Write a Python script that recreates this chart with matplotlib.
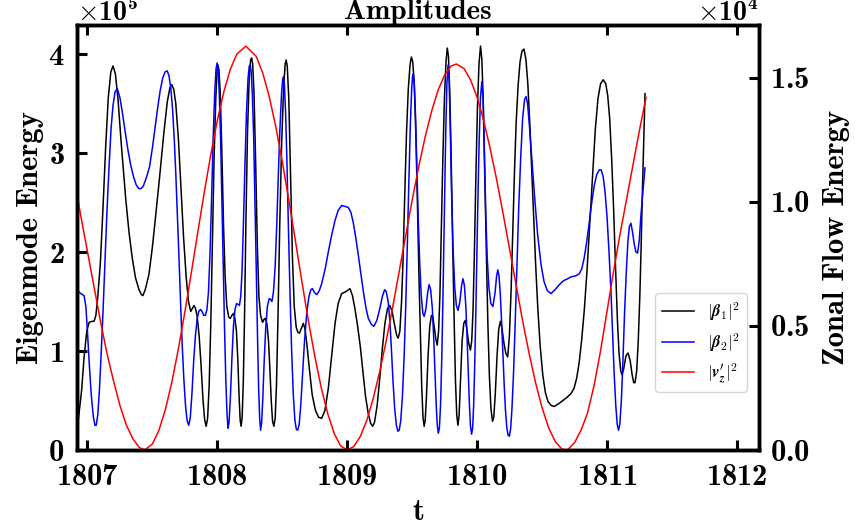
import matplotlib
matplotlib.use('Agg')
import matplotlib.pyplot as plt
import numpy as np

# |beta_1|^2, in units of 1e5
t_beta1 = [1806.931, 1806.955, 1806.975, 1806.995, 1807.013, 1807.035, 1807.051, 1807.065, 1807.080, 1807.100,
           1807.120, 1807.140, 1807.160, 1807.180, 1807.197, 1807.215, 1807.235, 1807.260, 1807.294, 1807.320,
           1807.345, 1807.370, 1807.397, 1807.415, 1807.427, 1807.445, 1807.473, 1807.500, 1807.524, 1807.555,
           1807.588, 1807.615, 1807.635, 1807.650, 1807.665, 1807.680, 1807.700, 1807.720, 1807.740, 1807.760,
           1807.778, 1807.795, 1807.808, 1807.820, 1807.832, 1807.845, 1807.860, 1807.875, 1807.890, 1807.903,
           1807.914, 1807.925, 1807.937, 1807.950, 1807.962, 1807.975, 1807.988, 1807.998, 1808.005, 1808.012,
           1808.022, 1808.035, 1808.048, 1808.060, 1808.073, 1808.088, 1808.100, 1808.112, 1808.124, 1808.135,
           1808.147, 1808.158, 1808.168, 1808.176, 1808.183, 1808.191, 1808.200, 1808.210, 1808.220, 1808.232,
           1808.245, 1808.256, 1808.264, 1808.272, 1808.282, 1808.295, 1808.308, 1808.320, 1808.333, 1808.348,
           1808.360, 1808.370, 1808.382, 1808.394, 1808.405, 1808.415, 1808.425, 1808.435, 1808.445, 1808.455,
           1808.467, 1808.480, 1808.495, 1808.510, 1808.522, 1808.530, 1808.538, 1808.550, 1808.563, 1808.578,
           1808.592, 1808.607, 1808.620, 1808.632, 1808.647, 1808.662, 1808.675, 1808.690, 1808.710, 1808.730,
           1808.755, 1808.780, 1808.803, 1808.828, 1808.854, 1808.880, 1808.906, 1808.930, 1808.957, 1808.990,
           1809.021, 1809.040, 1809.059, 1809.080, 1809.100, 1809.120, 1809.140, 1809.160, 1809.180, 1809.195,
           1809.210, 1809.230, 1809.250, 1809.270, 1809.290, 1809.310, 1809.328, 1809.345, 1809.362, 1809.380,
           1809.392, 1809.405, 1809.418, 1809.430, 1809.443, 1809.456, 1809.470, 1809.484, 1809.494, 1809.504,
           1809.515, 1809.528, 1809.540, 1809.552, 1809.563, 1809.573, 1809.583, 1809.592, 1809.600, 1809.610,
           1809.622, 1809.635, 1809.648, 1809.658, 1809.670, 1809.682, 1809.693, 1809.703, 1809.713, 1809.724,
           1809.736, 1809.748, 1809.760, 1809.770, 1809.779, 1809.789, 1809.800, 1809.812, 1809.823, 1809.833,
           1809.843, 1809.852, 1809.861, 1809.872, 1809.884, 1809.897, 1809.909, 1809.921, 1809.935, 1809.948,
           1809.958, 1809.968, 1809.978, 1809.990, 1810.002, 1810.014, 1810.026, 1810.036, 1810.046, 1810.058,
           1810.070, 1810.082, 1810.094, 1810.106, 1810.118, 1810.128, 1810.140, 1810.153, 1810.166, 1810.179,
           1810.192, 1810.205, 1810.220, 1810.235, 1810.248, 1810.261, 1810.274, 1810.287, 1810.300, 1810.315,
           1810.330, 1810.345, 1810.360, 1810.375, 1810.390, 1810.405, 1810.420, 1810.435, 1810.450, 1810.466,
           1810.485, 1810.505, 1810.525, 1810.545, 1810.570, 1810.594, 1810.630, 1810.660, 1810.690, 1810.722,
           1810.745, 1810.765, 1810.785, 1810.805, 1810.825, 1810.845, 1810.865, 1810.888, 1810.910, 1810.930,
           1810.950, 1810.970, 1810.990, 1811.005, 1811.020, 1811.035, 1811.050, 1811.065, 1811.080, 1811.092,
           1811.105, 1811.115, 1811.128, 1811.145, 1811.162, 1811.178, 1811.193, 1811.205, 1811.215, 1811.228,
           1811.240, 1811.252, 1811.262, 1811.272, 1811.282, 1811.292]
beta1 = [0.32, 0.60, 0.95, 1.20, 1.29, 1.30, 1.30, 1.36, 1.55, 1.90,
         2.45, 3.05, 3.55, 3.82, 3.88, 3.80, 3.55, 3.10, 2.55, 2.20,
         1.94, 1.74, 1.62, 1.57, 1.56, 1.62, 1.77, 2.05, 2.35, 2.75,
         3.20, 3.52, 3.66, 3.69, 3.64, 3.50, 3.15, 2.65, 2.15, 1.75,
         1.50, 1.40, 1.43, 1.46, 1.43, 1.35, 1.15, 0.85, 0.50, 0.30,
         0.24, 0.32, 0.65, 1.30, 2.10, 2.95, 3.55, 3.83, 3.89, 3.84,
         3.62, 3.00, 2.25, 1.75, 1.45, 1.34, 1.33, 1.36, 1.38, 1.33,
         1.20, 0.90, 0.52, 0.30, 0.24, 0.33, 0.70, 1.40, 2.30, 3.20,
         3.75, 3.94, 3.96, 3.90, 3.62, 2.90, 2.05, 1.55, 1.36, 1.29,
         1.32, 1.33, 1.27, 1.10, 0.80, 0.50, 0.29, 0.24, 0.32, 0.65,
         1.35, 2.25, 3.10, 3.65, 3.90, 3.94, 3.88, 3.55, 2.80, 1.95,
         1.45, 1.24, 1.19, 1.18, 1.23, 1.28, 1.22, 1.06, 0.80, 0.56,
         0.40, 0.33, 0.32, 0.40, 0.62, 0.95, 1.28, 1.48, 1.58, 1.60,
         1.63, 1.56, 1.43, 1.25, 1.05, 0.80, 0.55, 0.38, 0.27, 0.24,
         0.28, 0.45, 0.72, 1.02, 1.28, 1.43, 1.46, 1.40, 1.28, 1.16,
         1.13, 1.20, 1.50, 1.94, 2.60, 3.20, 3.65, 3.90, 3.97, 3.92,
         3.72, 3.20, 2.50, 1.75, 1.15, 0.65, 0.33, 0.24, 0.30, 0.55,
         0.95, 1.25, 1.36, 1.35, 1.24, 1.12, 1.06, 1.20, 1.55, 2.20,
         2.95, 3.55, 3.92, 4.06, 3.98, 3.62, 2.95, 2.05, 1.30, 0.70,
         0.35, 0.25, 0.35, 0.70, 1.10, 1.28, 1.31, 1.22, 1.08, 1.01,
         1.10, 1.40, 1.95, 2.75, 3.45, 3.90, 4.08, 3.95, 3.55, 2.80,
         2.00, 1.30, 0.75, 0.42, 0.29, 0.33, 0.58, 0.95, 1.22, 1.30,
         1.22, 1.09, 0.98, 0.94, 1.15, 1.60, 2.20, 2.80, 3.30, 3.68,
         3.92, 4.03, 4.05, 3.95, 3.70, 3.30, 2.82, 2.35, 1.88, 1.45,
         1.05, 0.76, 0.58, 0.49, 0.45, 0.44, 0.47, 0.50, 0.53, 0.57,
         0.62, 0.72, 0.88, 1.12, 1.42, 1.80, 2.25, 2.78, 3.25, 3.55,
         3.70, 3.74, 3.70, 3.58, 3.35, 2.95, 2.45, 1.85, 1.30, 0.98,
         0.80, 0.76, 0.82, 0.95, 0.98, 0.90, 0.76, 0.68, 0.68, 0.80,
         1.10, 1.55, 2.05, 2.61, 3.10, 3.60]

# |beta_2|^2, in units of 1e5
t_beta2 = [1806.931, 1806.950, 1806.974, 1806.988, 1807.000, 1807.015, 1807.030, 1807.045, 1807.058, 1807.068,
           1807.080, 1807.092, 1807.105, 1807.120, 1807.135, 1807.150, 1807.166, 1807.182, 1807.197, 1807.213,
           1807.230, 1807.250, 1807.270, 1807.290, 1807.312, 1807.333, 1807.355, 1807.375, 1807.395, 1807.410,
           1807.428, 1807.448, 1807.465, 1807.478, 1807.500, 1807.520, 1807.540, 1807.560, 1807.580, 1807.598,
           1807.614, 1807.628, 1807.642, 1807.655, 1807.668, 1807.680, 1807.693, 1807.706, 1807.718, 1807.730,
           1807.742, 1807.755, 1807.767, 1807.780, 1807.792, 1807.805, 1807.818, 1807.831, 1807.845, 1807.857,
           1807.870, 1807.882, 1807.895, 1807.908, 1807.920, 1807.932, 1807.944, 1807.956, 1807.968, 1807.980,
           1807.990, 1807.998, 1808.006, 1808.015, 1808.025, 1808.035, 1808.045, 1808.055, 1808.065, 1808.074,
           1808.082, 1808.090, 1808.100, 1808.112, 1808.124, 1808.136, 1808.148, 1808.160, 1808.170, 1808.180,
           1808.190, 1808.200, 1808.212, 1808.224, 1808.236, 1808.246, 1808.253, 1808.261, 1808.270, 1808.280,
           1808.290, 1808.300, 1808.310, 1808.318, 1808.326, 1808.333, 1808.341, 1808.350, 1808.360, 1808.372,
           1808.385, 1808.399, 1808.410, 1808.420, 1808.432, 1808.445, 1808.458, 1808.470, 1808.482, 1808.495,
           1808.503, 1808.509, 1808.516, 1808.525, 1808.535, 1808.547, 1808.560, 1808.572, 1808.585, 1808.597,
           1808.608, 1808.619, 1808.630, 1808.642, 1808.655, 1808.670, 1808.688, 1808.705, 1808.720, 1808.732,
           1808.748, 1808.765, 1808.785, 1808.803, 1808.830, 1808.854, 1808.880, 1808.906, 1808.930, 1808.957,
           1808.985, 1809.008, 1809.028, 1809.046, 1809.065, 1809.085, 1809.105, 1809.124, 1809.145, 1809.162,
           1809.185, 1809.205, 1809.228, 1809.251, 1809.270, 1809.288, 1809.300, 1809.315, 1809.328, 1809.340,
           1809.352, 1809.365, 1809.378, 1809.390, 1809.400, 1809.412, 1809.425, 1809.438, 1809.450, 1809.462,
           1809.474, 1809.486, 1809.496, 1809.503, 1809.509, 1809.516, 1809.525, 1809.535, 1809.546, 1809.558,
           1809.570, 1809.582, 1809.592, 1809.605, 1809.618, 1809.630, 1809.642, 1809.655, 1809.665, 1809.675,
           1809.685, 1809.693, 1809.701, 1809.709, 1809.718, 1809.728, 1809.738, 1809.748, 1809.758, 1809.767,
           1809.776, 1809.784, 1809.793, 1809.803, 1809.814, 1809.827, 1809.840, 1809.853, 1809.867, 1809.880,
           1809.891, 1809.902, 1809.913, 1809.922, 1809.931, 1809.940, 1809.948, 1809.957, 1809.965, 1809.973,
           1809.982, 1809.992, 1810.003, 1810.014, 1810.025, 1810.036, 1810.046, 1810.056, 1810.066, 1810.077,
           1810.090, 1810.105, 1810.121, 1810.137, 1810.150, 1810.159, 1810.168, 1810.178, 1810.188, 1810.198,
           1810.208, 1810.218, 1810.228, 1810.238, 1810.248, 1810.258, 1810.268, 1810.280, 1810.292, 1810.305,
           1810.320, 1810.335, 1810.350, 1810.365, 1810.376, 1810.388, 1810.402, 1810.420, 1810.441, 1810.465,
           1810.492, 1810.515, 1810.540, 1810.568, 1810.600, 1810.632, 1810.665, 1810.696, 1810.725, 1810.760,
           1810.786, 1810.805, 1810.824, 1810.843, 1810.863, 1810.882, 1810.901, 1810.920, 1810.940, 1810.955,
           1810.970, 1810.985, 1811.000, 1811.015, 1811.030, 1811.043, 1811.055, 1811.067, 1811.078, 1811.088,
           1811.098, 1811.110, 1811.122, 1811.135, 1811.148, 1811.160, 1811.172, 1811.184, 1811.196, 1811.209,
           1811.222, 1811.235, 1811.248, 1811.260, 1811.275, 1811.292]
beta2 = [1.60, 1.58, 1.56, 1.45, 1.20, 0.85, 0.55, 0.34, 0.25, 0.25,
         0.36, 0.60, 0.95, 1.40, 1.90, 2.40, 2.85, 3.25, 3.48, 3.62,
         3.65, 3.56, 3.40, 3.22, 3.03, 2.88, 2.76, 2.68, 2.64, 2.64,
         2.66, 2.73, 2.80, 2.86, 3.05, 3.25, 3.45, 3.63, 3.76, 3.82,
         3.83, 3.78, 3.65, 3.45, 3.15, 2.80, 2.35, 1.90, 1.45, 1.05,
         0.72, 0.45, 0.30, 0.25, 0.33, 0.58, 0.90, 1.15, 1.33, 1.40,
         1.42, 1.40, 1.36, 1.36, 1.42, 1.60, 2.00, 2.55, 3.15, 3.62,
         3.85, 3.91, 3.85, 3.60, 3.15, 2.55, 1.90, 1.25, 0.72, 0.38,
         0.22, 0.28, 0.52, 0.92, 1.25, 1.42, 1.48, 1.47, 1.46, 1.55,
         1.80, 2.25, 2.85, 3.40, 3.75, 3.88, 3.89, 3.82, 3.58, 3.15,
         2.50, 1.80, 1.10, 0.62, 0.32, 0.20, 0.28, 0.52, 0.88, 1.22,
         1.45, 1.53, 1.52, 1.50, 1.60, 1.85, 2.30, 2.80, 3.25, 3.62,
         3.74, 3.77, 3.70, 3.42, 2.95, 2.25, 1.55, 1.00, 0.55, 0.30,
         0.21, 0.20, 0.26, 0.45, 0.75, 1.08, 1.38, 1.55, 1.62, 1.63,
         1.59, 1.57, 1.61, 1.68, 1.83, 2.00, 2.17, 2.32, 2.42, 2.47,
         2.46, 2.45, 2.40, 2.30, 2.15, 1.97, 1.78, 1.60, 1.43, 1.33,
         1.27, 1.25, 1.31, 1.43, 1.55, 1.62, 1.60, 1.50, 1.30, 1.02,
         0.70, 0.42, 0.25, 0.19, 0.20, 0.30, 0.55, 0.95, 1.45, 2.05,
         2.70, 3.30, 3.65, 3.78, 3.80, 3.70, 3.40, 2.90, 2.35, 1.88,
         1.55, 1.38, 1.35, 1.42, 1.58, 1.67, 1.62, 1.43, 1.15, 0.80,
         0.45, 0.25, 0.17, 0.22, 0.45, 0.95, 1.65, 2.45, 3.20, 3.70,
         3.89, 3.75, 3.25, 2.60, 2.05, 1.65, 1.46, 1.41, 1.50, 1.66,
         1.73, 1.66, 1.45, 1.15, 0.80, 0.47, 0.25, 0.16, 0.22, 0.45,
         0.90, 1.55, 2.35, 3.05, 3.55, 3.72, 3.55, 3.00, 2.40, 1.95,
         1.65, 1.48, 1.45, 1.58, 1.76, 1.82, 1.76, 1.58, 1.30, 0.98,
         0.66, 0.40, 0.23, 0.15, 0.14, 0.22, 0.42, 0.78, 1.25, 1.80,
         2.45, 2.95, 3.35, 3.54, 3.57, 3.50, 3.28, 2.95, 2.58, 2.18,
         1.87, 1.70, 1.61, 1.58, 1.62, 1.67, 1.71, 1.73, 1.75, 1.76,
         1.78, 1.83, 1.94, 2.10, 2.30, 2.50, 2.67, 2.78, 2.83, 2.83,
         2.76, 2.60, 2.35, 2.00, 1.60, 1.15, 0.76, 0.45, 0.26, 0.20,
         0.26, 0.50, 0.90, 1.40, 1.80, 2.10, 2.26, 2.29, 2.20, 2.08,
         2.00, 1.99, 2.12, 2.36, 2.60, 2.85]

# |v_z'|^2, in units of 1e4
t_vz = [1806.93, 1806.95, 1807.00, 1807.05, 1807.10, 1807.15, 1807.20, 1807.25, 1807.30, 1807.35,
        1807.40, 1807.44, 1807.50, 1807.55, 1807.60, 1807.65, 1807.70, 1807.75, 1807.80, 1807.85,
        1807.90, 1807.95, 1808.00, 1808.05, 1808.10, 1808.15, 1808.22, 1808.30, 1808.35, 1808.40,
        1808.45, 1808.50, 1808.55, 1808.60, 1808.65, 1808.70, 1808.75, 1808.80, 1808.85, 1808.90,
        1808.95, 1809.00, 1809.05, 1809.10, 1809.15, 1809.20, 1809.25, 1809.30, 1809.35, 1809.40,
        1809.45, 1809.50, 1809.55, 1809.60, 1809.65, 1809.70, 1809.75, 1809.80, 1809.84, 1809.90,
        1809.95, 1810.00, 1810.05, 1810.10, 1810.15, 1810.20, 1810.25, 1810.30, 1810.35, 1810.40,
        1810.45, 1810.50, 1810.55, 1810.60, 1810.65, 1810.68, 1810.70, 1810.75, 1810.80, 1810.85,
        1810.90, 1810.95, 1811.00, 1811.05, 1811.10, 1811.15, 1811.20, 1811.25, 1811.30]
vz = [1.000, 0.940, 0.800, 0.660, 0.520, 0.390, 0.280, 0.180, 0.100, 0.045,
      0.010, 0.000, 0.024, 0.079, 0.163, 0.274, 0.407, 0.556, 0.715, 0.879,
      1.040, 1.191, 1.328, 1.443, 1.534, 1.595, 1.627, 1.585, 1.518, 1.423,
      1.302, 1.162, 1.007, 0.846, 0.681, 0.523, 0.378, 0.250, 0.146, 0.066,
      0.016, 0.000, 0.014, 0.054, 0.119, 0.208, 0.316, 0.440, 0.576, 0.720,
      0.864, 1.007, 1.141, 1.262, 1.366, 1.451, 1.511, 1.547, 1.555, 1.536,
      1.490, 1.420, 1.327, 1.215, 1.089, 0.951, 0.808, 0.664, 0.520, 0.389,
      0.270, 0.170, 0.090, 0.035, 0.005, 0.000, 0.003, 0.030, 0.080, 0.150,
      0.260, 0.400, 0.560, 0.720, 0.870, 1.010, 1.150, 1.290, 1.420]

plt.rcParams['font.family'] = 'cmb10'
plt.rcParams['mathtext.fontset'] = 'cm'
plt.rcParams['axes.unicode_minus'] = False
plt.rcParams['axes.formatter.limits'] = (-3, 3)
plt.rcParams['axes.formatter.use_mathtext'] = True

fig = plt.figure(figsize=(8.55, 5.29), dpi=100)
ax = fig.add_axes([0.0901, 0.1493, 0.7977, 0.8034])
ax2 = ax.twinx()

l1, = ax.plot(t_beta1, np.array(beta1) * 1e5, color='black', lw=1.1,
              label=r'$|\boldsymbol{\beta}_\mathbf{1}|^\mathbf{2}$')
l2, = ax.plot(t_beta2, np.array(beta2) * 1e5, color='blue', lw=1.1,
              label=r'$|\boldsymbol{\beta}_\mathbf{2}|^\mathbf{2}$')
l3, = ax2.plot(t_vz, np.array(vz) * 1e4, color='red', lw=1.1,
               label=r"$|\boldsymbol{v}_\boldsymbol{z}'|^\mathbf{2}$")

ax.set_xlim(1806.92, 1812.17)
ax.set_ylim(0, 4.293e5)
ax2.set_ylim(0, 1.712e4)
ax.set_xticks([1807, 1808, 1809, 1810, 1811, 1812])
ax.ticklabel_format(axis='x', style='plain', useOffset=False)
ax.set_yticks([0, 1e5, 2e5, 3e5, 4e5])
ax2.set_yticks([0, 0.5e4, 1.0e4, 1.5e4])

for a in (ax, ax2):
    for s in a.spines.values():
        s.set_linewidth(2.5)
    a.tick_params(direction='in', length=7, width=2.2, labelsize=22)
ax.tick_params(axis='x', top=True, pad=10)
ax.tick_params(axis='y', pad=9)
ax2.tick_params(axis='y', pad=8)
ax.yaxis.get_offset_text().set_fontsize(20)
ax2.yaxis.get_offset_text().set_fontsize(20)

ax.set_xlabel('t', fontsize=22, labelpad=6)
ax.set_ylabel('Eigenmode Energy', fontsize=22, labelpad=3)
ax2.set_ylabel('Zonal Flow Energy', fontsize=22, labelpad=9)
ax.set_title('Amplitudes', fontsize=21, pad=2)

ax2.legend(handles=[l1, l2, l3], loc='lower right', bbox_to_anchor=(0.982, 0.137),
           borderaxespad=0, fontsize=12, handlelength=1.9)

fig.savefig('out.png', dpi=100)
